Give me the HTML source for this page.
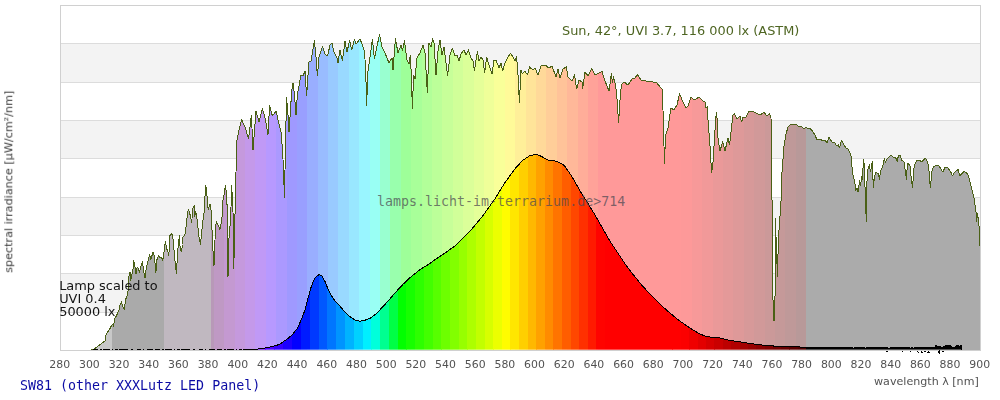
<!DOCTYPE html>
<html><head><meta charset="utf-8"><title>SW81 spectrum</title>
<style>
html,body{margin:0;padding:0;background:#fff;}
body{width:1000px;height:400px;overflow:hidden;}
svg{display:block;}
text{font-family:"DejaVu Sans","Liberation Sans",sans-serif;}
.mono{font-family:"DejaVu Sans Mono","Liberation Mono",monospace;}
</style></head><body>
<svg width="1000" height="400" viewBox="0 0 1000 400">
<rect width="1000" height="400" fill="#fff"/>
<defs>
<filter id="nf" x="-5%" y="-20%" width="110%" height="140%"><feOffset dx="0" dy="0"/></filter>
<clipPath id="cs"><polygon points="91.5,350 92.5,349.7 96.2,347.7 100,344.7 103,342.5 105,341 106,335 108.2,331.2 109.7,329 111.7,325.2 113.2,324.5 113.5,326.7 114.5,319.2 115.7,317 117.2,314 119.2,309.5 120.2,304.2 121.4,302 122.5,305 123.2,308 124.4,309.5 125.5,300 126.7,296.7 127.7,293.5 128.8,285 129,276 130,272.2 130.7,280.5 131.8,274.5 132.7,273 133.7,260.2 135.2,267.7 136,273.7 137.2,267 138.2,268.5 139.4,272.2 140.8,266.2 142.4,261.7 143.5,270 145,278.2 146.5,266.2 147.7,262.5 149.5,255 151,259.5 151.7,256.5 153.2,252 154.4,256.5 155.9,273 157,259.5 158.5,255.7 160,258 161.5,257.2 162.7,260.2 163.7,256.5 164.5,246 165.5,241.5 166.7,249 167.8,250.5 168.7,255.7 169.7,244.5 170,235.5 171.5,233.2 172.7,236.2 173.5,243 174.2,252 175,261 176.5,273.7 177.2,259.5 178.3,244.5 179.4,235.5 180.2,249 181.4,252 182.5,244.5 182.7,237 183.8,236.2 185,234 186.5,224.2 187.2,215.2 188.3,209.2 189.5,212.2 191,219 191.7,222.7 192.5,212.2 193.2,207 194.3,205.5 194.7,216.7 195.8,211.5 196.7,216.7 197.7,225 198.8,235.5 200.5,244.5 201.8,231 202.7,221.2 203.7,218.2 204.5,206.2 205.5,186 206.7,189 207.2,199.5 208.2,210 209.3,206.2 210.2,204 211.2,211.5 212,229.5 213.2,255 214,266 215,240 215.4,228 216.5,221.2 217.7,225 218.7,225.7 219.8,229.5 221,224.2 222,217.5 222.8,201 224,195 225.5,185.2 226.4,193.5 227.4,211.5 228,277 228.8,240 230.3,222 231,207 231.5,185.2 232.2,195 233,211.5 233.8,269 234.6,230 235.2,207 236,172 237,140 239.5,128 241.6,119.6 245,127 248.6,139 251.4,115 253,150 256,111 259,122 262.4,108.4 265.6,120 268,135 269.6,105.6 272.4,116 276,111 279,124 281,132 282.5,150 283.6,170 284.4,198 285,170 285.8,130 286.6,97.6 288,115 289,132 290.5,110 291.6,92 293,83 294.5,95 296,115 297,100 298,91 301,75 303,76 305,71 306.6,96 308,75 309,62 311,61 314.4,40.6 316,57 317.4,76 319,57 322.4,46.6 325,54 327.6,56 330,45 332,43.4 334,52 337,58 338,63 340,50 342.4,61 345,41.4 347,52 349.6,40.6 351.6,50 354.4,39.4 356,44 360,39 362,44 364,50 365.6,65 366.6,106 368,71 370,57 372.4,39.4 374.4,59 377,46 379.6,34.6 382,47 385,53 389,63 392,58 393,70 395.4,38.6 398,53 401,45 402.4,51 404.4,40.6 407,60 409,64 410.4,55 411.5,80 412.4,109 413.6,75 415,79 417,58 420,53 423,45 425,53 427.4,93 429,43 431,47 432.6,38.6 434,43 436,75 438,51 440,40 442,55 444,47 447.6,76 450,55 452.4,48 455,56 457,55 459,61 461,54 464,50 466,55 468.4,50 471,58 473,61 474.4,71 477.4,51.4 479,61 481,57 483,60 484.6,73 486.6,57 489,65 492,74 494,60 496,60 499,68 501,63 502.6,71 505,63 508,57 510.6,53.4 513,57 515,61 516.6,57 518,75 519.4,103 521,70 522.4,74 525,71 527.4,75 529.4,67 533,70 535,68 538,75 541,66 545,65 549,68 552,66 556,77 558,69 560,78 563,69 566.4,66.6 568,77 572,81 574.6,75 576.6,89 579,80 582,82 582.6,89 585,72 588,76 591.6,68.6 595,75 599,73 602,71.4 605,81 609,91 611.4,73.4 612.4,83 613.6,77 615.6,85 617,99 618.6,123 620,100 621.4,85 624,82 628,85 632,79 635,78 637.6,74.6 641,80 646,81 650,81.4 657,83 660,87 662,89 663,110 664,146 664.4,164 665.6,135 668,128 669.4,118 671,108 674,110 677,105 679.6,93.6 682,100 686,107.6 688,106 691,97.6 695,100 699,97 703,101 705,102 706,108 707.4,107 708,120 710,146 711.6,173 713,162 714.4,140 715.6,120 716.4,112 717.4,122 718,138 720,151 722.6,142 725,151 728,138 729.6,145 731,132 732.4,120 733,115 734.4,113.6 737,119 740,116 741.6,122 743,117 746,117 749,111 752,111 756,113 760,115 764,112.4 767,116 769.6,114 771,118 771.6,150 772,200 773,300 774,321 775,300 775.3,218 776.5,250 777.5,277 778.3,240 779.3,226 780.5,209 781.7,190 782,172 784,146 786,134 788,127 791,124 796,124.4 799,127 801,126 804,129 806,127 808,129 810,128 813,132 815,135 817,140 820,139 823,141 825,140 827,143 829,137.6 832,142 835,143 836.8,146 838.5,144.5 839.4,148 841.6,140.2 843.6,144.5 846.2,148 847.9,148.4 849.6,152 851.3,156.4 852,167.4 853.5,178.5 854.7,179.3 855.5,191 856.9,187.8 858,192 859.8,180 860.6,186 861.5,176.8 862.3,179.3 863.5,159.8 864.5,165.7 865.2,194.6 866.3,221.5 867,181 867.7,170 869.4,164.9 870.5,171.7 872.2,161.5 873.4,187.8 874.5,175.9 875.9,172.5 878.5,173.4 879.3,179.3 881,170 882.7,166.6 884.4,158 885.3,162.3 887.8,158 891.2,155.2 893.8,158 895.5,157.2 897.2,161.5 898.5,155.2 900,155.2 901.7,160.6 904,161.5 905.7,173.4 906.5,179.3 907.4,163.2 909.9,164.9 911.3,179.3 912.5,187.8 914.2,165.7 916.7,160.3 919.3,160.6 921.8,161.5 925.7,158 927.8,162.3 929,170.8 930.3,187.8 932,170.8 933.7,166.6 938,164.9 940.5,168.3 943,172.2 944.8,167.4 947.3,167.4 950.7,171.7 952.4,175.9 954.1,172.5 958.4,169.4 959.5,175.9 964.3,171.1 967.7,174.2 969.4,179.3 971.1,186.1 972.8,192.9 974,198 976,212 976.6,222 977.6,213 979,226 979.6,246 980,246 980,350 91.5,350"/></clipPath>
<clipPath id="cl"><polygon points="252,349.6 263.5,348.4 272.5,346.6 279.3,344.4 286,339.9 291.6,335.4 297.3,328.6 301.8,318.5 305.1,309.5 308,298.3 310.8,288.1 313.7,280.3 316.4,276.2 319.3,274.6 322,276.2 325,281.4 327.6,288.1 331,294.9 335.5,301.6 340,306.1 345.6,312.9 351.3,317.8 355.8,320.3 360.3,321.2 364.8,320.3 370.4,318.1 376,314 382.8,306.8 389.5,299.4 396.3,291.5 403,284.3 412,275.8 421,269 430,263.4 434.5,260 445,253 456.25,245 470,231.25 482.5,216.25 495,198.75 505,182.5 515,168.75 522.5,160.5 530,155.5 536.25,154.5 541.25,156.25 547.5,160 556.25,161.25 563.75,165 567.5,170 572.5,177.5 577.5,186.25 582.5,195 587.5,202.5 591.25,208.75 595,215 600,223.75 605,232.5 610,241.25 612.5,245 616.5,251 624.75,263.4 633,274.4 641.25,284.5 649.5,293.6 659,303.25 668.75,312 679.75,321 690.75,328.5 699,333.5 706.7,336.8 718.25,337.6 729.25,340.4 743,342.3 756.75,344.5 770.5,345.9 792.5,346.7 806.25,347.25 847.5,348 849,347.6 850,348.6 851,347.4 852,347.8 853,347.9 854,348.6 855,347.5 856,347.8 857,347.3 858,347.4 859,348.6 860,347.1 861,348.6 862,347.6 863,347.7 864,347.3 865,348.6 866,347.8 867,347.3 868,347.6 869,347.5 870,347.2 871,347.7 872,347.4 873,347.2 874,348.6 875,347.5 876,347.8 877,347.9 878,347.2 879,347.1 880,347.3 881,347.4 882,347.1 883,347.5 884,347.8 885,347.3 886,347.2 887,347.6 888,347.9 889,348.6 890,347.8 891,347.8 892,347.5 893,347.8 894,347.4 895,347.2 896,347.6 897,347.6 898,347 899,347.7 900,347.7 901,347.4 902,347.9 903,347.6 904,347 905,347.4 906,348.6 907,347.1 908,347.1 909,347.5 910,347.8 911,348.6 912,347.7 913,348.6 914,347.9 915,347.8 916,347.9 917,347.3 918,347.7 919,347.6 920,347.1 921,347.5 922,348.6 923,347.6 924,347.2 925,347.9 926,347.4 927,348.6 928,347.4 929,347.1 930,347.7 931,347.7 932,347.4 933,347.6 934,347.2 935,347.1 936,345.5 937,345.7 938,347 939,346.3 940,346.7 941,347.5 942,347.5 943,346.9 944,346.9 945,345.8 946,345.1 947,346.4 948,345.2 949,345 950,345.1 951,346.7 952,347 953,347 954,347.1 955,347.1 956,346 957,345.3 958,345.4 959,346.4 960,345.9 961,345.5 962,349.5 962,349.6 252,349.6"/></clipPath>
</defs>
<g shape-rendering="crispEdges">
<rect x="60" y="43.33" width="920" height="38.33" fill="#f3f3f3"/>
<rect x="60" y="120" width="920" height="38.33" fill="#f3f3f3"/>
<rect x="60" y="196.67" width="920" height="38.33" fill="#f3f3f3"/>
<rect x="60" y="273.33" width="920" height="38.33" fill="#f3f3f3"/>
<line x1="60" y1="43.5" x2="980" y2="43.5" stroke="#dcdcdc" stroke-width="1"/>
<line x1="60" y1="82.5" x2="980" y2="82.5" stroke="#dcdcdc" stroke-width="1"/>
<line x1="60" y1="120.5" x2="980" y2="120.5" stroke="#dcdcdc" stroke-width="1"/>
<line x1="60" y1="158.5" x2="980" y2="158.5" stroke="#dcdcdc" stroke-width="1"/>
<line x1="60" y1="197.5" x2="980" y2="197.5" stroke="#dcdcdc" stroke-width="1"/>
<line x1="60" y1="235.5" x2="980" y2="235.5" stroke="#dcdcdc" stroke-width="1"/>
<line x1="60" y1="273.5" x2="980" y2="273.5" stroke="#dcdcdc" stroke-width="1"/>
<line x1="60" y1="312.5" x2="980" y2="312.5" stroke="#dcdcdc" stroke-width="1"/>
<rect x="60.5" y="5.5" width="920" height="345" fill="none" stroke="#d0d0d0" stroke-width="1"/>
</g>
<g clip-path="url(#cs)" shape-rendering="crispEdges">
<rect x="60" y="5" width="52.24" height="346" fill="#c8c8c8"/>
<rect x="111.94" y="5" width="52.24" height="346" fill="#aaaaaa"/>
<rect x="163.87" y="5" width="47.23" height="346" fill="#c0b8c0"/>
<rect x="210.8" y="5" width="3.25" height="346" fill="#b899b8"/>
<rect x="213.75" y="5" width="10.69" height="346" fill="#bf99c4"/>
<rect x="224.14" y="5" width="10.69" height="346" fill="#c499d1"/>
<rect x="234.54" y="5" width="10.69" height="346" fill="#c599dd"/>
<rect x="244.93" y="5" width="10.69" height="346" fill="#c499ea"/>
<rect x="255.32" y="5" width="10.69" height="346" fill="#c099f6"/>
<rect x="265.72" y="5" width="10.69" height="346" fill="#b799ff"/>
<rect x="276.11" y="5" width="10.69" height="346" fill="#ab99ff"/>
<rect x="286.51" y="5" width="10.69" height="346" fill="#9f99ff"/>
<rect x="296.9" y="5" width="10.69" height="346" fill="#999fff"/>
<rect x="307.29" y="5" width="10.69" height="346" fill="#99aeff"/>
<rect x="317.69" y="5" width="10.69" height="346" fill="#99bcff"/>
<rect x="328.08" y="5" width="10.69" height="346" fill="#99caff"/>
<rect x="338.48" y="5" width="10.69" height="346" fill="#99d9ff"/>
<rect x="348.87" y="5" width="10.69" height="346" fill="#99e7ff"/>
<rect x="359.26" y="5" width="10.69" height="346" fill="#99f5ff"/>
<rect x="369.66" y="5" width="10.69" height="346" fill="#99fff4"/>
<rect x="380.05" y="5" width="10.69" height="346" fill="#99ffd0"/>
<rect x="390.45" y="5" width="10.69" height="346" fill="#99ffad"/>
<rect x="400.84" y="5" width="10.69" height="346" fill="#9eff99"/>
<rect x="411.23" y="5" width="10.69" height="346" fill="#a8ff99"/>
<rect x="421.63" y="5" width="10.69" height="346" fill="#b2ff99"/>
<rect x="432.02" y="5" width="10.69" height="346" fill="#bcff99"/>
<rect x="442.42" y="5" width="10.69" height="346" fill="#c7ff99"/>
<rect x="452.81" y="5" width="10.69" height="346" fill="#d1ff99"/>
<rect x="463.2" y="5" width="10.69" height="346" fill="#dbff99"/>
<rect x="473.6" y="5" width="10.69" height="346" fill="#e5ff99"/>
<rect x="483.99" y="5" width="10.69" height="346" fill="#efff99"/>
<rect x="494.39" y="5" width="10.69" height="346" fill="#f9ff99"/>
<rect x="504.78" y="5" width="10.69" height="346" fill="#fffa99"/>
<rect x="515.17" y="5" width="10.69" height="346" fill="#ffef99"/>
<rect x="525.57" y="5" width="10.69" height="346" fill="#ffe499"/>
<rect x="535.96" y="5" width="10.69" height="346" fill="#ffd999"/>
<rect x="546.36" y="5" width="10.69" height="346" fill="#ffce99"/>
<rect x="556.75" y="5" width="10.69" height="346" fill="#ffc399"/>
<rect x="567.14" y="5" width="10.69" height="346" fill="#ffb899"/>
<rect x="577.54" y="5" width="10.69" height="346" fill="#ffad99"/>
<rect x="587.93" y="5" width="10.69" height="346" fill="#ffa299"/>
<rect x="598.33" y="5" width="10.69" height="346" fill="#ff9999"/>
<rect x="608.72" y="5" width="10.69" height="346" fill="#ff9999"/>
<rect x="619.11" y="5" width="10.69" height="346" fill="#ff9999"/>
<rect x="629.51" y="5" width="10.69" height="346" fill="#ff9999"/>
<rect x="639.9" y="5" width="10.69" height="346" fill="#ff9999"/>
<rect x="650.3" y="5" width="10.69" height="346" fill="#ff9999"/>
<rect x="660.69" y="5" width="10.69" height="346" fill="#ff9999"/>
<rect x="671.08" y="5" width="10.69" height="346" fill="#ff9999"/>
<rect x="681.48" y="5" width="10.69" height="346" fill="#fd9999"/>
<rect x="691.87" y="5" width="10.69" height="346" fill="#f79999"/>
<rect x="702.27" y="5" width="10.69" height="346" fill="#f19999"/>
<rect x="712.66" y="5" width="10.69" height="346" fill="#ea9999"/>
<rect x="723.05" y="5" width="10.69" height="346" fill="#e49999"/>
<rect x="733.45" y="5" width="10.69" height="346" fill="#de9999"/>
<rect x="743.84" y="5" width="10.69" height="346" fill="#d79999"/>
<rect x="754.24" y="5" width="10.69" height="346" fill="#d19999"/>
<rect x="764.63" y="5" width="10.69" height="346" fill="#cb9999"/>
<rect x="775.02" y="5" width="10.69" height="346" fill="#c59999"/>
<rect x="785.42" y="5" width="10.69" height="346" fill="#bf9999"/>
<rect x="795.81" y="5" width="10.69" height="346" fill="#b89999"/>
<rect x="806.2" y="5" width="175.1" height="346" fill="#ababab"/>
</g>
<polyline points="91.5,350 92.5,349.7 96.2,347.7 100,344.7 103,342.5 105,341 106,335 108.2,331.2 109.7,329 111.7,325.2 113.2,324.5 113.5,326.7 114.5,319.2 115.7,317 117.2,314 119.2,309.5 120.2,304.2 121.4,302 122.5,305 123.2,308 124.4,309.5 125.5,300 126.7,296.7 127.7,293.5 128.8,285 129,276 130,272.2 130.7,280.5 131.8,274.5 132.7,273 133.7,260.2 135.2,267.7 136,273.7 137.2,267 138.2,268.5 139.4,272.2 140.8,266.2 142.4,261.7 143.5,270 145,278.2 146.5,266.2 147.7,262.5 149.5,255 151,259.5 151.7,256.5 153.2,252 154.4,256.5 155.9,273 157,259.5 158.5,255.7 160,258 161.5,257.2 162.7,260.2 163.7,256.5 164.5,246 165.5,241.5 166.7,249 167.8,250.5 168.7,255.7 169.7,244.5 170,235.5 171.5,233.2 172.7,236.2 173.5,243 174.2,252 175,261 176.5,273.7 177.2,259.5 178.3,244.5 179.4,235.5 180.2,249 181.4,252 182.5,244.5 182.7,237 183.8,236.2 185,234 186.5,224.2 187.2,215.2 188.3,209.2 189.5,212.2 191,219 191.7,222.7 192.5,212.2 193.2,207 194.3,205.5 194.7,216.7 195.8,211.5 196.7,216.7 197.7,225 198.8,235.5 200.5,244.5 201.8,231 202.7,221.2 203.7,218.2 204.5,206.2 205.5,186 206.7,189 207.2,199.5 208.2,210 209.3,206.2 210.2,204 211.2,211.5 212,229.5 213.2,255 214,266 215,240 215.4,228 216.5,221.2 217.7,225 218.7,225.7 219.8,229.5 221,224.2 222,217.5 222.8,201 224,195 225.5,185.2 226.4,193.5 227.4,211.5 228,277 228.8,240 230.3,222 231,207 231.5,185.2 232.2,195 233,211.5 233.8,269 234.6,230 235.2,207 236,172 237,140 239.5,128 241.6,119.6 245,127 248.6,139 251.4,115 253,150 256,111 259,122 262.4,108.4 265.6,120 268,135 269.6,105.6 272.4,116 276,111 279,124 281,132 282.5,150 283.6,170 284.4,198 285,170 285.8,130 286.6,97.6 288,115 289,132 290.5,110 291.6,92 293,83 294.5,95 296,115 297,100 298,91 301,75 303,76 305,71 306.6,96 308,75 309,62 311,61 314.4,40.6 316,57 317.4,76 319,57 322.4,46.6 325,54 327.6,56 330,45 332,43.4 334,52 337,58 338,63 340,50 342.4,61 345,41.4 347,52 349.6,40.6 351.6,50 354.4,39.4 356,44 360,39 362,44 364,50 365.6,65 366.6,106 368,71 370,57 372.4,39.4 374.4,59 377,46 379.6,34.6 382,47 385,53 389,63 392,58 393,70 395.4,38.6 398,53 401,45 402.4,51 404.4,40.6 407,60 409,64 410.4,55 411.5,80 412.4,109 413.6,75 415,79 417,58 420,53 423,45 425,53 427.4,93 429,43 431,47 432.6,38.6 434,43 436,75 438,51 440,40 442,55 444,47 447.6,76 450,55 452.4,48 455,56 457,55 459,61 461,54 464,50 466,55 468.4,50 471,58 473,61 474.4,71 477.4,51.4 479,61 481,57 483,60 484.6,73 486.6,57 489,65 492,74 494,60 496,60 499,68 501,63 502.6,71 505,63 508,57 510.6,53.4 513,57 515,61 516.6,57 518,75 519.4,103 521,70 522.4,74 525,71 527.4,75 529.4,67 533,70 535,68 538,75 541,66 545,65 549,68 552,66 556,77 558,69 560,78 563,69 566.4,66.6 568,77 572,81 574.6,75 576.6,89 579,80 582,82 582.6,89 585,72 588,76 591.6,68.6 595,75 599,73 602,71.4 605,81 609,91 611.4,73.4 612.4,83 613.6,77 615.6,85 617,99 618.6,123 620,100 621.4,85 624,82 628,85 632,79 635,78 637.6,74.6 641,80 646,81 650,81.4 657,83 660,87 662,89 663,110 664,146 664.4,164 665.6,135 668,128 669.4,118 671,108 674,110 677,105 679.6,93.6 682,100 686,107.6 688,106 691,97.6 695,100 699,97 703,101 705,102 706,108 707.4,107 708,120 710,146 711.6,173 713,162 714.4,140 715.6,120 716.4,112 717.4,122 718,138 720,151 722.6,142 725,151 728,138 729.6,145 731,132 732.4,120 733,115 734.4,113.6 737,119 740,116 741.6,122 743,117 746,117 749,111 752,111 756,113 760,115 764,112.4 767,116 769.6,114 771,118 771.6,150 772,200 773,300 774,321 775,300 775.3,218 776.5,250 777.5,277 778.3,240 779.3,226 780.5,209 781.7,190 782,172 784,146 786,134 788,127 791,124 796,124.4 799,127 801,126 804,129 806,127 808,129 810,128 813,132 815,135 817,140 820,139 823,141 825,140 827,143 829,137.6 832,142 835,143 836.8,146 838.5,144.5 839.4,148 841.6,140.2 843.6,144.5 846.2,148 847.9,148.4 849.6,152 851.3,156.4 852,167.4 853.5,178.5 854.7,179.3 855.5,191 856.9,187.8 858,192 859.8,180 860.6,186 861.5,176.8 862.3,179.3 863.5,159.8 864.5,165.7 865.2,194.6 866.3,221.5 867,181 867.7,170 869.4,164.9 870.5,171.7 872.2,161.5 873.4,187.8 874.5,175.9 875.9,172.5 878.5,173.4 879.3,179.3 881,170 882.7,166.6 884.4,158 885.3,162.3 887.8,158 891.2,155.2 893.8,158 895.5,157.2 897.2,161.5 898.5,155.2 900,155.2 901.7,160.6 904,161.5 905.7,173.4 906.5,179.3 907.4,163.2 909.9,164.9 911.3,179.3 912.5,187.8 914.2,165.7 916.7,160.3 919.3,160.6 921.8,161.5 925.7,158 927.8,162.3 929,170.8 930.3,187.8 932,170.8 933.7,166.6 938,164.9 940.5,168.3 943,172.2 944.8,167.4 947.3,167.4 950.7,171.7 952.4,175.9 954.1,172.5 958.4,169.4 959.5,175.9 964.3,171.1 967.7,174.2 969.4,179.3 971.1,186.1 972.8,192.9 974,198 976,212 976.6,222 977.6,213 979,226 979.6,246 980,246" fill="none" stroke="#4a6016" stroke-width="1" stroke-linejoin="round" shape-rendering="crispEdges"/>
<g filter="url(#nf)" font-size="12.9" fill="#141414">
<text x="59.2" y="290">Lamp scaled to</text>
<text x="59.2" y="302.8">UVI 0.4</text>
<text x="59.2" y="315.6">50000 lx</text>
</g>
<line x1="93" y1="349.5" x2="252" y2="349.5" stroke="#000" stroke-width="1" stroke-dasharray="5 2 2 1 7 2 1 2 3 1 9 3 2 4 4 2 1 3 6 2" shape-rendering="crispEdges"/>
<g clip-path="url(#cl)" shape-rendering="crispEdges">
<rect x="60" y="5" width="152.14" height="346" fill="#000000"/>
<rect x="211.84" y="5" width="9.25" height="346" fill="#5b0064"/>
<rect x="220.78" y="5" width="9.24" height="346" fill="#67007f"/>
<rect x="229.72" y="5" width="9.23" height="346" fill="#6d009a"/>
<rect x="238.65" y="5" width="9.22" height="346" fill="#6e00b5"/>
<rect x="247.56" y="5" width="9.21" height="346" fill="#6a00d0"/>
<rect x="256.47" y="5" width="9.2" height="346" fill="#6000ea"/>
<rect x="265.37" y="5" width="9.19" height="346" fill="#4f00ff"/>
<rect x="274.26" y="5" width="9.18" height="346" fill="#3600ff"/>
<rect x="283.13" y="5" width="9.17" height="346" fill="#1c00ff"/>
<rect x="292" y="5" width="9.16" height="346" fill="#0300ff"/>
<rect x="300.86" y="5" width="9.15" height="346" fill="#001bff"/>
<rect x="309.71" y="5" width="9.14" height="346" fill="#0039ff"/>
<rect x="318.54" y="5" width="9.13" height="346" fill="#0058ff"/>
<rect x="327.37" y="5" width="9.12" height="346" fill="#0076ff"/>
<rect x="336.19" y="5" width="9.11" height="346" fill="#0094ff"/>
<rect x="345" y="5" width="9.1" height="346" fill="#00b3ff"/>
<rect x="353.8" y="5" width="9.09" height="346" fill="#00d1ff"/>
<rect x="362.58" y="5" width="9.08" height="346" fill="#00efff"/>
<rect x="371.36" y="5" width="9.07" height="346" fill="#00ffdb"/>
<rect x="380.13" y="5" width="9.06" height="346" fill="#00ff90"/>
<rect x="388.89" y="5" width="9.05" height="346" fill="#00ff45"/>
<rect x="397.64" y="5" width="9.04" height="346" fill="#02ff00"/>
<rect x="406.38" y="5" width="9.03" height="346" fill="#17ff00"/>
<rect x="415.11" y="5" width="9.02" height="346" fill="#2dff00"/>
<rect x="423.83" y="5" width="9.01" height="346" fill="#42ff00"/>
<rect x="432.54" y="5" width="9" height="346" fill="#57ff00"/>
<rect x="441.24" y="5" width="8.99" height="346" fill="#6dff00"/>
<rect x="449.93" y="5" width="8.98" height="346" fill="#82ff00"/>
<rect x="458.61" y="5" width="8.97" height="346" fill="#97ff00"/>
<rect x="467.28" y="5" width="8.96" height="346" fill="#adff00"/>
<rect x="475.94" y="5" width="8.95" height="346" fill="#c2ff00"/>
<rect x="484.59" y="5" width="8.94" height="346" fill="#d7ff00"/>
<rect x="493.23" y="5" width="8.93" height="346" fill="#ecff00"/>
<rect x="501.86" y="5" width="8.92" height="346" fill="#fffc00"/>
<rect x="510.48" y="5" width="8.91" height="346" fill="#ffe600"/>
<rect x="519.09" y="5" width="8.9" height="346" fill="#ffcf00"/>
<rect x="527.69" y="5" width="8.89" height="346" fill="#ffb800"/>
<rect x="536.28" y="5" width="8.88" height="346" fill="#ffa100"/>
<rect x="544.87" y="5" width="8.87" height="346" fill="#ff8b00"/>
<rect x="553.44" y="5" width="8.86" height="346" fill="#ff7400"/>
<rect x="562" y="5" width="8.85" height="346" fill="#ff5d00"/>
<rect x="570.55" y="5" width="8.84" height="346" fill="#ff4700"/>
<rect x="579.09" y="5" width="8.83" height="346" fill="#ff3000"/>
<rect x="587.63" y="5" width="8.82" height="346" fill="#ff1a00"/>
<rect x="596.15" y="5" width="8.81" height="346" fill="#ff0300"/>
<rect x="604.66" y="5" width="8.8" height="346" fill="#ff0000"/>
<rect x="613.16" y="5" width="8.79" height="346" fill="#ff0000"/>
<rect x="621.66" y="5" width="8.78" height="346" fill="#ff0000"/>
<rect x="630.14" y="5" width="8.77" height="346" fill="#ff0000"/>
<rect x="638.61" y="5" width="8.76" height="346" fill="#ff0000"/>
<rect x="647.08" y="5" width="8.75" height="346" fill="#ff0000"/>
<rect x="655.53" y="5" width="8.74" height="346" fill="#ff0000"/>
<rect x="663.97" y="5" width="8.73" height="346" fill="#ff0000"/>
<rect x="672.41" y="5" width="8.72" height="346" fill="#ff0000"/>
<rect x="680.83" y="5" width="8.71" height="346" fill="#fc0000"/>
<rect x="689.24" y="5" width="8.7" height="346" fill="#f00000"/>
<rect x="697.65" y="5" width="8.69" height="346" fill="#e30000"/>
<rect x="706.04" y="5" width="8.68" height="346" fill="#d60000"/>
<rect x="714.43" y="5" width="8.67" height="346" fill="#ca0000"/>
<rect x="722.8" y="5" width="8.66" height="346" fill="#bd0000"/>
<rect x="731.16" y="5" width="8.65" height="346" fill="#b10000"/>
<rect x="739.52" y="5" width="8.64" height="346" fill="#a40000"/>
<rect x="747.86" y="5" width="8.63" height="346" fill="#980000"/>
<rect x="756.2" y="5" width="8.63" height="346" fill="#8b0000"/>
<rect x="764.52" y="5" width="8.62" height="346" fill="#7f0000"/>
<rect x="772.84" y="5" width="8.61" height="346" fill="#720000"/>
<rect x="781.14" y="5" width="8.6" height="346" fill="#660000"/>
<rect x="789.44" y="5" width="8.59" height="346" fill="#590000"/>
<rect x="797.73" y="5" width="8.58" height="346" fill="#4d0000"/>
<rect x="806" y="5" width="175.3" height="346" fill="#000000"/>
</g>
<polyline points="252,349.6 263.5,348.4 272.5,346.6 279.3,344.4 286,339.9 291.6,335.4 297.3,328.6 301.8,318.5 305.1,309.5 308,298.3 310.8,288.1 313.7,280.3 316.4,276.2 319.3,274.6 322,276.2 325,281.4 327.6,288.1 331,294.9 335.5,301.6 340,306.1 345.6,312.9 351.3,317.8 355.8,320.3 360.3,321.2 364.8,320.3 370.4,318.1 376,314 382.8,306.8 389.5,299.4 396.3,291.5 403,284.3 412,275.8 421,269 430,263.4 434.5,260 445,253 456.25,245 470,231.25 482.5,216.25 495,198.75 505,182.5 515,168.75 522.5,160.5 530,155.5 536.25,154.5 541.25,156.25 547.5,160 556.25,161.25 563.75,165 567.5,170 572.5,177.5 577.5,186.25 582.5,195 587.5,202.5 591.25,208.75 595,215 600,223.75 605,232.5 610,241.25 612.5,245 616.5,251 624.75,263.4 633,274.4 641.25,284.5 649.5,293.6 659,303.25 668.75,312 679.75,321 690.75,328.5 699,333.5 706.7,336.8 718.25,337.6 729.25,340.4 743,342.3 756.75,344.5 770.5,345.9 792.5,346.7 806.25,347.25 847.5,348 849,347.6 850,348.6 851,347.4 852,347.8 853,347.9 854,348.6 855,347.5 856,347.8 857,347.3 858,347.4 859,348.6 860,347.1 861,348.6 862,347.6 863,347.7 864,347.3 865,348.6 866,347.8 867,347.3 868,347.6 869,347.5 870,347.2 871,347.7 872,347.4 873,347.2 874,348.6 875,347.5 876,347.8 877,347.9 878,347.2 879,347.1 880,347.3 881,347.4 882,347.1 883,347.5 884,347.8 885,347.3 886,347.2 887,347.6 888,347.9 889,348.6 890,347.8 891,347.8 892,347.5 893,347.8 894,347.4 895,347.2 896,347.6 897,347.6 898,347 899,347.7 900,347.7 901,347.4 902,347.9 903,347.6 904,347 905,347.4 906,348.6 907,347.1 908,347.1 909,347.5 910,347.8 911,348.6 912,347.7 913,348.6 914,347.9 915,347.8 916,347.9 917,347.3 918,347.7 919,347.6 920,347.1 921,347.5 922,348.6 923,347.6 924,347.2 925,347.9 926,347.4 927,348.6 928,347.4 929,347.1 930,347.7 931,347.7 932,347.4 933,347.6 934,347.2 935,347.1 936,345.5 937,345.7 938,347 939,346.3 940,346.7 941,347.5 942,347.5 943,346.9 944,346.9 945,345.8 946,345.1 947,346.4 948,345.2 949,345 950,345.1 951,346.7 952,347 953,347 954,347.1 955,347.1 956,346 957,345.3 958,345.4 959,346.4 960,345.9 961,345.5 962,349.5" fill="none" stroke="#000" stroke-width="1" stroke-linejoin="round" shape-rendering="crispEdges"/>
<g shape-rendering="crispEdges" stroke="#000" stroke-width="1"><line x1="886" y1="351.5" x2="950" y2="351.5" stroke-dasharray="2 14 1 7 1 6 1 3 1 2 2 2 1 9 1 3"/><line x1="918" y1="352.5" x2="945" y2="352.5" stroke-dasharray="1 2 2 4 3 8 1 20"/><line x1="939.5" y1="350" x2="939.5" y2="354"/></g>
<text class="mono" x="377" y="206" font-size="13.3" fill="#4c4852" fill-opacity="0.72">lamps.licht-im-terrarium.de&gt;714</text>
<text x="562" y="34.8" font-size="12.9" fill="#4e6522" filter="url(#nf)">Sun, 42°, UVI 3.7, 116 000 lx (ASTM)</text>
<g font-size="10.9" fill="#505050" opacity="0.99">
<text x="59.7" y="368" text-anchor="middle">280</text>
<text x="89.4" y="368" text-anchor="middle">300</text>
<text x="119.1" y="368" text-anchor="middle">320</text>
<text x="148.7" y="368" text-anchor="middle">340</text>
<text x="178.4" y="368" text-anchor="middle">360</text>
<text x="208.1" y="368" text-anchor="middle">380</text>
<text x="237.8" y="368" text-anchor="middle">400</text>
<text x="267.4" y="368" text-anchor="middle">420</text>
<text x="297.1" y="368" text-anchor="middle">440</text>
<text x="326.8" y="368" text-anchor="middle">460</text>
<text x="356.5" y="368" text-anchor="middle">480</text>
<text x="386.2" y="368" text-anchor="middle">500</text>
<text x="415.8" y="368" text-anchor="middle">520</text>
<text x="445.5" y="368" text-anchor="middle">540</text>
<text x="475.2" y="368" text-anchor="middle">560</text>
<text x="504.9" y="368" text-anchor="middle">580</text>
<text x="534.5" y="368" text-anchor="middle">600</text>
<text x="564.2" y="368" text-anchor="middle">620</text>
<text x="593.9" y="368" text-anchor="middle">640</text>
<text x="623.6" y="368" text-anchor="middle">660</text>
<text x="653.2" y="368" text-anchor="middle">680</text>
<text x="682.9" y="368" text-anchor="middle">700</text>
<text x="712.6" y="368" text-anchor="middle">720</text>
<text x="742.3" y="368" text-anchor="middle">740</text>
<text x="772" y="368" text-anchor="middle">760</text>
<text x="801.6" y="368" text-anchor="middle">780</text>
<text x="831.3" y="368" text-anchor="middle">800</text>
<text x="861" y="368" text-anchor="middle">820</text>
<text x="890.7" y="368" text-anchor="middle">840</text>
<text x="920.3" y="368" text-anchor="middle">860</text>
<text x="950" y="368" text-anchor="middle">880</text>
<text x="979.7" y="368" text-anchor="middle">900</text>
<text x="978.8" y="384.8" text-anchor="end" font-size="11.1">wavelength λ [nm]</text>
<text transform="translate(12.3,272.8) rotate(-90)" font-size="11.2" fill="#383838">spectral irradiance [µW/cm²/nm]</text>
</g>
<text class="mono" x="20" y="390" font-size="13.3" fill="#0c0ca4" filter="url(#nf)">SW81 (other XXXLutz LED Panel)</text>
</svg>
</body></html>
